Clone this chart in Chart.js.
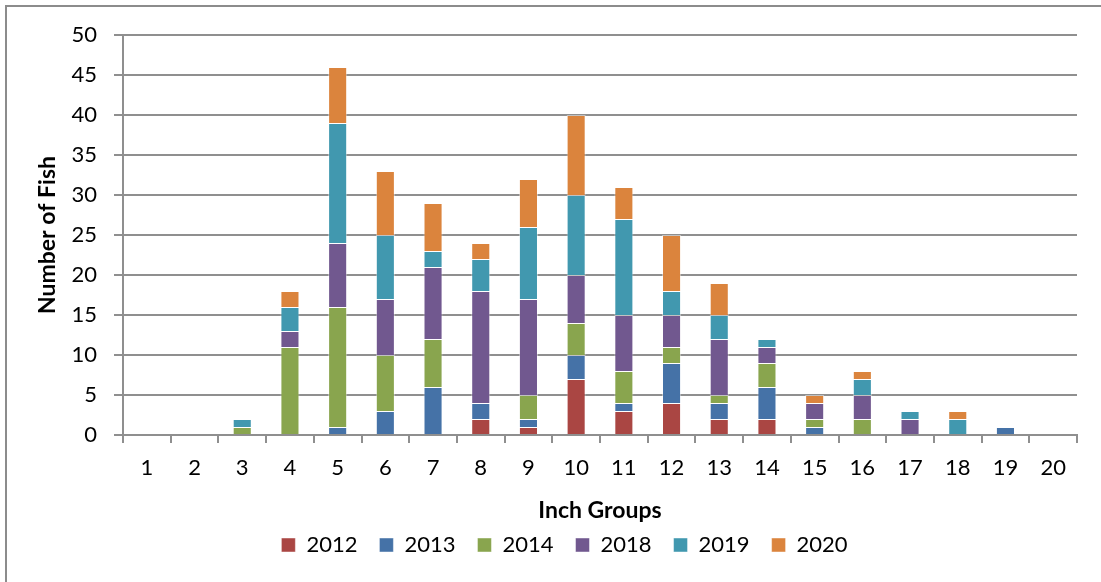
<!DOCTYPE html>
<html>
<head>
<meta charset="utf-8">
<script src="https://cdn.jsdelivr.net/npm/chart.js@4/dist/chart.umd.min.js"></script>
<style>
    html, body { margin: 0; padding: 0; background: #ffffff; }
    #wrap { position: relative; width: 1101px; height: 582px; overflow: hidden; }
    #frame {
        position: absolute; left: 5px; top: 5px; width: 1200px; height: 700px;
        border-left: 2px solid #8c8c8c; border-top: 2px solid #8c8c8c;
    }
    #fishChart { position: absolute; left: 0; top: 0; }
</style>
</head>
<body>
<div id="wrap">
    <div id="frame"></div>
    <canvas id="fishChart" width="1101" height="582"></canvas>
</div>
<script>
    const inchGroups = ['1', '2', '3', '4', '5', '6', '7', '8', '9', '10',
                        '11', '12', '13', '14', '15', '16', '17', '18', '19', '20'];

    // fish counts per inch group, one array per survey year
    const fish2012 = [0, 0, 0, 0, 0, 0, 0, 2, 1, 7, 3, 4, 2, 2, 0, 0, 0, 0, 0, 0];
    const fish2013 = [0, 0, 0, 0, 1, 3, 6, 2, 1, 3, 1, 5, 2, 4, 1, 0, 0, 0, 1, 0];
    const fish2014 = [0, 0, 1, 11, 15, 7, 6, 0, 3, 4, 4, 2, 1, 3, 1, 2, 0, 0, 0, 0];
    const fish2018 = [0, 0, 0, 2, 8, 7, 9, 14, 12, 6, 7, 4, 7, 2, 2, 3, 2, 0, 0, 0];
    const fish2019 = [0, 0, 1, 3, 15, 8, 2, 4, 9, 10, 12, 3, 3, 1, 0, 2, 1, 2, 0, 0];
    const fish2020 = [0, 0, 0, 2, 7, 8, 6, 2, 6, 10, 4, 7, 4, 0, 1, 1, 0, 1, 0, 0];

    const years = ['2012', '2013', '2014', '2018', '2019', '2020'];
    const yearColors = ['#aa4643', '#4572a7', '#89a54e', '#71588f', '#4198af', '#db843d'];
    const yTicks = [0, 5, 10, 15, 20, 25, 30, 35, 40, 45, 50];

    const counts = [fish2012, fish2013, fish2014, fish2018, fish2019, fish2020];
    const gridGray = '#8f8f8f';
    const fontName = 'Lato, "Open Sans", sans-serif';

    const datasets = years.map((year, i) => ({
        label: year,
        data: counts[i],
        backgroundColor: yearColors[i],
        borderColor: 'rgba(255, 255, 255, 0.45)',
        borderWidth: 1,
        barPercentage: 0.4,
        categoryPercentage: 1.0
    }));

    const ctx = document.getElementById('fishChart').getContext('2d');
    const fishChart = new Chart(ctx, {
        type: 'bar',
        data: {
            labels: inchGroups,
            datasets: datasets
        },
        options: {
            responsive: false,
            animation: false,
            // left padding also pushes the legend row a little right of centre
            layout: {
                padding: { left: 52, right: 24, top: 35, bottom: 16 }
            },
            plugins: {
                tooltip: { enabled: false },
                legend: {
                    display: true,
                    position: 'bottom',
                    labels: {
                        color: '#000000',
                        boxWidth: 14,
                        boxHeight: 14,
                        padding: 22,
                        font: { family: fontName, size: 22 }
                    }
                }
            },
            scales: {
                x: {
                    stacked: true,
                    afterFit: scale => { scale.height = 77; },
                    grid: {
                        offset: true,
                        drawOnChartArea: false,
                        drawTicks: true,
                        tickLength: 8,
                        tickColor: gridGray,
                        lineWidth: 2
                    },
                    border: { display: true, color: gridGray, width: 2 },
                    ticks: {
                        color: '#000000',
                        padding: 12,
                        maxRotation: 0,
                        autoSkip: false,
                        font: { family: fontName, size: 22 }
                    },
                    title: {
                        display: true,
                        text: 'Inch Groups',
                        color: '#000000',
                        padding: { top: 0, bottom: -12 },
                        font: { family: fontName, size: 23, weight: 'bold' }
                    }
                },
                y: {
                    stacked: true,
                    min: 0,
                    max: 50,
                    afterFit: scale => { scale.width = 71; },
                    afterBuildTicks: scale => {
                        scale.ticks = yTicks.map(v => ({ value: v }));
                    },
                    grid: {
                        color: gridGray,
                        lineWidth: 2,
                        drawTicks: true,
                        tickLength: 9,
                        tickColor: gridGray
                    },
                    border: { display: true, color: gridGray, width: 2 },
                    ticks: {
                        color: '#000000',
                        padding: 17,
                        font: { family: fontName, size: 22 }
                    },
                    title: {
                        display: true,
                        text: 'Number of Fish',
                        color: '#000000',
                        padding: { top: -18, bottom: 0 },
                        font: { family: fontName, size: 23, weight: 'bold' }
                    }
                }
            }
        }
    });
</script>
</body>
</html>
